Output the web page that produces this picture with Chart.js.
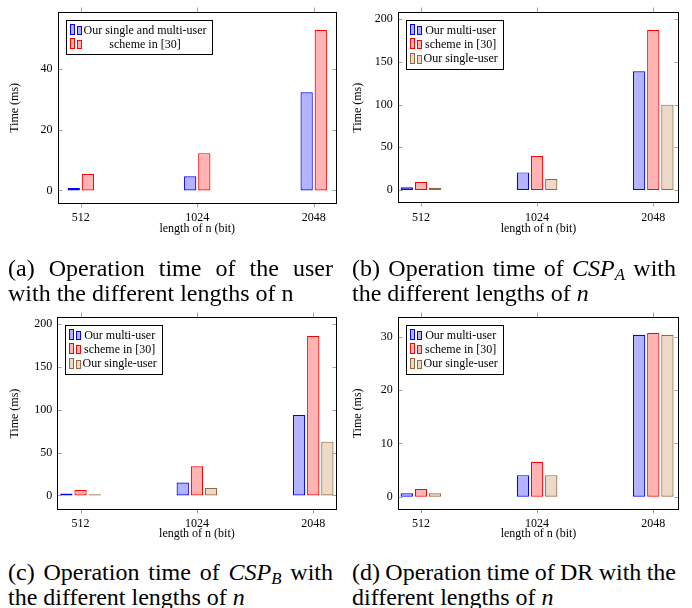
<!DOCTYPE html>
<html>
<head>
<meta charset="utf-8">
<script src="https://cdn.jsdelivr.net/npm/chart.js@4.4.0/dist/chart.umd.min.js"></script>
<style>
  body { margin: 0; background: #fff; width: 692px; height: 608px; position: relative; overflow: hidden; font-family: "Liberation Serif", serif; }
  .panel { position: absolute; width: 346px; height: 240px; }
  .cap { position: absolute; font-size: 24px; line-height: 25px; color: #000; }
  .cap div { white-space: nowrap; }
  .cap .l1 { text-align: justify; text-align-last: justify; word-spacing: -1px; }
  .cap i { font-style: italic; }
  .cap sub { font-size: 70%; line-height: 0; vertical-align: -0.25em; font-style: italic; }
</style>
</head>
<body>
<canvas id="chartA" class="panel" width="346" height="240" style="left:0;top:0"></canvas>
<canvas id="chartB" class="panel" width="346" height="240" style="left:346px;top:0"></canvas>
<canvas id="chartC" class="panel" width="346" height="240" style="left:0;top:305px"></canvas>
<canvas id="chartD" class="panel" width="346" height="240" style="left:346px;top:305px"></canvas>

<div class="cap" style="left:8px;top:256px;width:325px">
  <div class="l1">(a) Operation time of the user</div>
  <div>with the different lengths of n</div>
</div>
<div class="cap" style="left:352px;top:256px;width:324px">
  <div class="l1">(b) Operation time of <i>CSP</i><sub>A</sub> with</div>
  <div>the different lengths of <i>n</i></div>
</div>
<div class="cap" style="left:8px;top:560px;width:325px">
  <div class="l1">(c) Operation time of <i>CSP</i><sub>B</sub> with</div>
  <div>the different lengths of <i>n</i></div>
</div>
<div class="cap" style="left:352px;top:560px;width:324px">
  <div class="l1">(d) Operation time of DR with the</div>
  <div>different lengths of <i>n</i></div>
</div>

<script>
const lengths = ['512', '1024', '2048'];

// (a) user
const userOurs = [0.8, 4.7, 32.4];
const userRef = [5.4, 12.3, 52.9];
// (b) CSP_A
const cspAMulti = [3.2, 20.6, 139];
const cspARef = [9.3, 39.8, 187.4];
const cspASingle = [2.5, 13, 100];
// (c) CSP_B
const cspBMulti = [2.3, 15, 93.8];
const cspBRef = [6.4, 34.1, 185.7];
const cspBSingle = [1.5, 8.6, 62.7];
// (d) DR
const drMulti = [0.66, 4.05, 30.4];
const drRef = [1.47, 6.55, 30.75];
const drSingle = [0.66, 4.05, 30.4];

const ticksUser = [0, 20, 40];
const ticksCsp = [0, 50, 100, 150, 200];
const ticksDr = [0, 10, 20, 30];

const blue = {fill: 'rgb(179,179,255)', line: 'rgb(0,0,255)'};
const red = {fill: 'rgb(255,179,179)', line: 'rgb(255,0,0)'};
const tan = {fill: 'rgb(236,217,198)', line: 'rgb(148,105,63)'};

const FONT = '"Liberation Serif", serif';

// cadre noir + petites graduations grises
const framePlugin = {
    id: 'frame',
    afterDatasetsDraw(chart) {
        const {ctx, chartArea: a, scales: {x, y}} = chart;
        const L = Math.round(a.left) + 0.5, R = Math.round(a.right) - 0.5;
        const T = Math.round(a.top) + 0.5, B = Math.round(a.bottom) - 0.5;
        ctx.save();
        ctx.lineWidth = 1;
        ctx.strokeStyle = '#a0a0a0';
        ctx.beginPath();
        x.ticks.forEach(t => {
            const px = Math.round(x.getPixelForValue(t.value)) + 0.5;
            ctx.moveTo(px, B); ctx.lineTo(px, B + 4);
            ctx.moveTo(px, T); ctx.lineTo(px, T - 5);
        });
        y.ticks.forEach(t => {
            const py = Math.round(y.getPixelForValue(t.value)) + 0.5;
            ctx.moveTo(L, py); ctx.lineTo(L + 4, py);
            ctx.moveTo(R, py); ctx.lineTo(R - 4, py);
        });
        ctx.stroke();
        ctx.strokeStyle = '#000';
        ctx.strokeRect(L, T, R - L, B - T);
        ctx.restore();
    }
};

// légende encadrée dans la zone du graphique, style pgfplots
const legendPlugin = {
    id: 'boxLegend',
    afterDraw(chart) {
        const {ctx, chartArea: a} = chart;
        const sets = chart.data.datasets;
        ctx.save();
        ctx.font = '12px ' + FONT;
        const textW = Math.max(...sets.map(d => ctx.measureText(d.label).width));
        const left = Math.round(a.left + 8) + 0.5;
        const top = Math.round(a.top + 8) + 0.5;
        const w = Math.round(17 + textW + 6);
        const h = Math.round(20 + (sets.length - 1) * 14.3);
        ctx.fillStyle = '#fff';
        ctx.fillRect(left, top, w, h);
        ctx.strokeStyle = '#000';
        ctx.lineWidth = 1;
        ctx.strokeRect(left, top, w, h);
        sets.forEach((d, i) => {
            const cy = top + 10 + i * 14.3;
            const base = Math.round(cy + 3.5) + 0.5;
            ctx.fillStyle = d.backgroundColor;
            ctx.strokeStyle = d.borderColor;
            ctx.fillRect(left + 4, base - 10, 4, 10);
            ctx.strokeRect(left + 4, base - 10, 4, 10);
            ctx.fillRect(left + 11, base - 8, 4, 8);
            ctx.strokeRect(left + 11, base - 8, 4, 8);
            ctx.fillStyle = '#000';
            ctx.textAlign = 'center';
            ctx.textBaseline = 'middle';
            ctx.fillText(d.label, left + 17 + textW / 2, cy);
        });
        ctx.restore();
    }
};

const montarGrafico = (idElemento, series, yTicks, yMin, yMax, box, catPct) => {
    const ctx = document.getElementById(idElemento);
    const font = {family: FONT, size: 12};
    new Chart(ctx, {
        type: 'bar',
        data: {
            datasets: series.map(s => ({
                label: s.label,
                data: s.values.map((v, i) => ({x: i, y: v})),
                backgroundColor: s.color.fill,
                borderColor: s.color.line,
                borderWidth: 1.2,
                borderSkipped: false,
                categoryPercentage: catPct,
                barPercentage: 0.87
            }))
        },
        options: {
            responsive: false,
            animation: false,
            layout: {padding: {top: box.top, right: 346 - box.right, left: 0, bottom: 0}},
            plugins: {legend: {display: false}, tooltip: {enabled: false}},
            scales: {
                x: {
                    type: 'linear', min: -0.2, max: box.xMax, offset: false,
                    grid: {display: false, drawTicks: false}, border: {display: false},
                    afterBuildTicks: s => { s.ticks = lengths.map((_, i) => ({value: i})); },
                    afterFit: s => { s.height = 240 - box.bottom; },
                    ticks: {callback: v => lengths[v], font, color: '#000', padding: 7, autoSkip: false, maxRotation: 0},
                    title: {display: true, text: 'length of n (bit)', font, color: '#000', padding: {top: 0, bottom: 3.5}}
                },
                y: {
                    min: yMin, max: yMax,
                    grid: {display: false, drawTicks: false}, border: {display: false},
                    afterBuildTicks: s => { s.ticks = yTicks.map(v => ({value: v})); },
                    afterFit: s => { s.width = box.left; },
                    ticks: {font, color: '#000', padding: 5},
                    title: {display: true, text: 'Time (ms)', font, color: '#000', padding: {top: box.titleX - 7.2, bottom: 0}}
                }
            }
        },
        plugins: [framePlugin, legendPlugin]
    });
};

montarGrafico('chartA', [
    {label: 'Our single and multi-user', values: userOurs, color: blue},
    {label: 'scheme in [30]', values: userRef, color: red}
], ticksUser, -4.3, 58.8, {left: 57.5, right: 337, top: 5.5, bottom: 203.5, titleX: 15, xMax: 2.2}, 0.2425);

montarGrafico('chartB', [
    {label: 'Our multi-user', values: cspAMulti, color: blue},
    {label: 'scheme in [30]', values: cspARef, color: red},
    {label: 'Our single-user', values: cspASingle, color: tan}
], ticksCsp, -15.6, 208.3, {left: 51.7, right: 333.3, top: 5.5, bottom: 203.3, titleX: 11.7, xMax: 2.224}, 0.365);

montarGrafico('chartC', [
    {label: 'Our multi-user', values: cspBMulti, color: blue},
    {label: 'scheme in [30]', values: cspBRef, color: red},
    {label: 'Our single-user', values: cspBSingle, color: tan}
], ticksCsp, -16.9, 207.7, {left: 57.3, right: 336.5, top: 5.5, bottom: 205, titleX: 15, xMax: 2.2}, 0.365);

montarGrafico('chartD', [
    {label: 'Our multi-user', values: drMulti, color: blue},
    {label: 'scheme in [30]', values: drRef, color: red},
    {label: 'Our single-user', values: drSingle, color: tan}
], ticksDr, -2.4, 33.7, {left: 51.7, right: 333.3, top: 9, bottom: 204.5, titleX: 11.7, xMax: 2.224}, 0.365);
</script>
</body>
</html>
